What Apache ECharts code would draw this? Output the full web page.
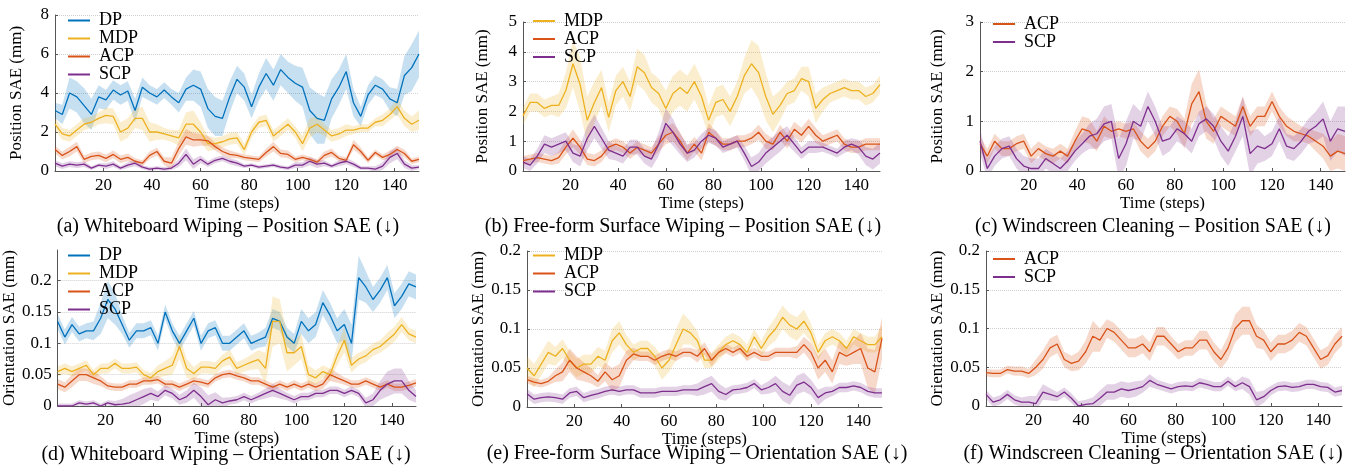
<!DOCTYPE html>
<html>
<head>
<meta charset="utf-8">
<script src="https://cdn.jsdelivr.net/npm/echarts@6.0.0/dist/echarts.min.js"></script>
<style>
html,body{margin:0;padding:0;background:#fff;}
#chart{width:1357px;height:466px;}
</style>
</head>
<body>
<div id="chart"></div>
<script>
// ---------- data ----------
const steps = [0,3,6,9,12,15,18,21,24,27,30,33,36,39,42,45,48,51,54,57,60,63,66,69,72,75,78,81,84,87,90,93,96,99,102,105,108,111,114,117,120,123,126,129,132,135,138,141,144,147,150];

// (a) Whiteboard Wiping - Position SAE
const aDP    = [3.1,2.9,4.0,3.8,3.35,2.9,3.8,3.65,4.15,3.9, 4.1,3.1,4.3,4.0,3.8,4.15,3.8,3.5,4.2,4.4, 4.2,3.2,2.8,2.7,3.8,4.7,4.3,3.3,4.3,5.0, 4.4,5.2,4.8,4.5,4.3,3.1,2.7,2.6,3.7,4.3, 5.1,3.5,2.8,3.9,4.4,4.2,3.7,3.5,4.9,5.3, 6.0];
const aDPsd  = [0.4,0.5,0.8,0.8,0.9,0.8,0.6,0.5,0.5,0.5, 0.5,0.6,0.5,0.4,0.4,0.4,0.4,0.5,0.6,0.8, 0.9,1.0,1.0,0.9,0.8,0.7,0.7,0.6,0.7,0.8, 0.8,0.8,0.8,0.9,1.0,1.2,1.3,1.2,1.0,0.9, 0.9,0.7,0.5,0.5,0.5,0.5,0.6,0.7,1.0,1.2, 1.2];
const aMDP   = [2.4,1.9,1.8,2.1,2.4,2.5,2.7,2.85,2.8,2.0, 2.2,2.7,2.7,2.0,2.0,1.9,1.8,1.7,2.4,2.4, 2.0,1.4,1.4,1.5,1.65,1.7,1.1,2.0,2.5,2.6, 1.8,2.1,2.4,2.0,1.4,2.2,2.4,2.1,1.8,1.9, 2.1,2.1,2.2,2.2,2.5,2.6,2.9,3.3,2.7,2.4, 2.6];
const aMDPsd = [0.3,0.3,0.3,0.3,0.3,0.3,0.3,0.4,0.4,0.5, 0.5,0.5,0.6,0.5,0.4,0.3,0.3,0.4,0.6,0.7, 0.5,0.4,0.3,0.3,0.3,0.3,0.3,0.3,0.3,0.3, 0.3,0.3,0.3,0.3,0.4,0.5,0.4,0.3,0.3,0.3, 0.3,0.2,0.2,0.2,0.2,0.3,0.3,0.4,0.4,0.4, 0.5];
const aACP   = [1.1,0.8,1.0,1.25,0.6,0.75,0.8,0.65,0.85,0.6, 0.7,0.5,0.4,0.8,1.0,0.5,0.4,1.15,1.75,1.6, 1.6,1.55,1.25,1.0,0.85,0.8,0.7,0.65,0.6,0.95, 1.25,0.9,0.85,0.6,0.7,0.6,0.45,0.8,0.95,0.65, 0.55,1.35,1.0,0.55,0.95,0.7,0.85,1.1,0.9,0.5, 0.6];
const aACPsd = [0.2,0.2,0.25,0.25,0.2,0.2,0.2,0.2,0.2,0.2, 0.2,0.15,0.15,0.2,0.2,0.2,0.3,0.35,0.4,0.35, 0.3,0.25,0.2,0.2,0.2,0.15,0.15,0.15,0.15,0.2, 0.25,0.2,0.2,0.15,0.15,0.15,0.15,0.2,0.2,0.15, 0.15,0.25,0.2,0.15,0.15,0.15,0.2,0.2,0.2,0.15, 0.15];
const aSCP   = [0.4,0.25,0.35,0.3,0.35,0.15,0.3,0.25,0.35,0.15, 0.3,0.4,0.2,0.1,0.15,0.1,0.15,0.4,0.85,0.35, 0.6,0.35,0.55,0.65,0.5,0.4,0.25,0.3,0.2,0.25, 0.3,0.2,0.15,0.3,0.3,0.5,0.35,0.4,0.25,0.4, 0.5,0.35,0.15,0.15,0.1,0.25,0.7,0.9,0.35,0.15, 0.2];
const aSCPsd = [0.15,0.15,0.15,0.15,0.15,0.1,0.1,0.15,0.15,0.1, 0.15,0.15,0.1,0.1,0.1,0.1,0.1,0.2,0.3,0.25, 0.2,0.15,0.15,0.15,0.15,0.15,0.1,0.1,0.1,0.1, 0.1,0.1,0.1,0.15,0.15,0.2,0.2,0.15,0.1,0.15, 0.15,0.15,0.1,0.1,0.15,0.2,0.3,0.3,0.2,0.15, 0.1];

// (b) Free-form Surface Wiping - Position SAE
const bMDP   = [1.85,2.3,2.3,2.1,2.2,2.2,2.7,3.6,2.9,1.7, 2.3,2.8,1.8,2.7,3.0,2.5,3.5,3.3,2.8,2.6, 2.1,2.6,2.8,2.6,3.0,2.5,1.7,2.3,2.4,2.0, 2.5,3.2,3.6,3.3,2.5,1.9,2.2,2.6,2.7,3.1, 3.0,2.1,2.4,2.6,2.7,2.8,2.7,2.7,2.5,2.6, 2.9];
const bMDPsd = [0.3,0.3,0.3,0.3,0.3,0.4,0.6,0.8,0.9,0.8, 0.7,0.6,0.5,0.5,0.5,0.5,0.6,0.6,0.5,0.5, 0.6,0.6,0.6,0.6,0.6,0.6,0.5,0.5,0.5,0.5, 0.5,0.6,0.8,0.9,0.8,0.6,0.5,0.4,0.4,0.4, 0.5,0.5,0.4,0.3,0.3,0.3,0.3,0.3,0.3,0.3, 0.3];
const bACP   = [0.35,0.4,0.45,0.4,0.35,0.45,0.8,1.1,0.8,0.4, 0.35,0.5,0.8,0.9,0.8,0.6,0.8,0.7,0.6,0.9, 1.2,1.3,1.0,0.6,0.9,0.6,1.3,1.1,0.9,0.9, 1.0,1.0,1.1,1.3,1.0,0.9,1.3,1.0,1.4,1.2, 1.5,1.2,1.0,1.1,1.2,0.9,0.8,0.8,0.9,0.9, 0.9];
const bACPsd = [0.15,0.15,0.15,0.15,0.15,0.2,0.25,0.3,0.25,0.2, 0.2,0.2,0.2,0.2,0.2,0.2,0.2,0.2,0.2,0.25, 0.3,0.3,0.3,0.25,0.25,0.25,0.3,0.25,0.2,0.2, 0.2,0.2,0.2,0.25,0.25,0.2,0.25,0.25,0.25,0.25, 0.25,0.25,0.2,0.2,0.2,0.2,0.2,0.2,0.2,0.2, 0.2];
const bSCP   = [0.3,0.2,0.5,0.9,0.8,0.9,1.0,0.6,0.5,1.1, 1.5,1.1,0.7,0.6,0.5,0.8,0.8,0.5,0.4,0.9, 1.6,1.3,0.9,0.6,0.7,1.0,1.2,1.1,0.8,0.9, 1.0,0.6,0.15,0.3,0.6,0.8,1.0,1.2,0.9,0.6, 0.8,0.8,0.8,0.7,0.6,0.8,0.9,0.8,0.5,0.4, 0.6];
const bSCPsd = [0.2,0.2,0.25,0.3,0.3,0.3,0.3,0.3,0.35,0.4, 0.4,0.35,0.3,0.25,0.25,0.25,0.25,0.25,0.3,0.4, 0.5,0.45,0.35,0.3,0.25,0.25,0.25,0.25,0.2,0.2, 0.2,0.25,0.3,0.3,0.35,0.35,0.35,0.3,0.25,0.2, 0.2,0.2,0.15,0.15,0.15,0.2,0.2,0.25,0.3,0.35, 0.35];

// (c) Windscreen Cleaning - Position SAE
const cACP   = [0.55,0.3,0.6,0.45,0.45,0.55,0.6,0.3,0.45,0.35, 0.3,0.4,0.3,0.6,0.85,0.8,0.6,0.9,0.8,0.85, 0.8,0.85,0.6,0.45,0.6,0.9,1.1,1.0,0.75,1.35, 1.6,1.0,0.8,1.1,1.0,0.9,1.3,0.9,1.1,1.1, 1.4,1.1,0.9,0.8,0.75,0.7,0.6,0.5,0.3,0.4, 0.35];
const cACPsd = [0.15,0.15,0.15,0.15,0.15,0.15,0.15,0.15,0.15,0.15, 0.15,0.15,0.15,0.2,0.25,0.25,0.2,0.2,0.15,0.15, 0.15,0.15,0.2,0.2,0.2,0.2,0.2,0.25,0.3,0.4, 0.45,0.35,0.25,0.2,0.2,0.2,0.2,0.2,0.2,0.2, 0.2,0.2,0.2,0.2,0.15,0.15,0.2,0.25,0.3,0.35, 0.35];
const cSCP   = [0.6,0.05,0.3,0.45,0.5,0.25,0.1,0.05,0.05,0.25, 0.15,0.05,0.2,0.4,0.55,0.7,0.75,0.95,1.0,0.25, 0.55,1.0,0.9,1.3,1.0,0.6,0.65,0.85,0.75,0.6, 0.95,1.05,0.9,0.6,0.4,0.7,1.1,0.35,0.5,0.45, 0.55,0.85,0.5,0.45,0.6,0.8,0.9,1.05,0.6,0.85, 0.8];
const cSCPsd = [0.25,0.2,0.2,0.2,0.2,0.2,0.2,0.2,0.2,0.2, 0.2,0.2,0.2,0.2,0.2,0.25,0.3,0.35,0.35,0.4, 0.45,0.35,0.3,0.3,0.3,0.3,0.25,0.25,0.25,0.25, 0.25,0.25,0.25,0.3,0.3,0.3,0.4,0.45,0.35,0.25, 0.25,0.25,0.25,0.25,0.25,0.25,0.3,0.35,0.4,0.45, 0.5];

// (d) Whiteboard Wiping - Orientation SAE
const dDP    = [0.135,0.11,0.13,0.115,0.12,0.12,0.14,0.17,0.155,0.13, 0.105,0.12,0.12,0.125,0.1,0.15,0.12,0.1,0.12,0.14, 0.1,0.12,0.125,0.1,0.1,0.11,0.12,0.1,0.105,0.11, 0.14,0.135,0.11,0.1,0.135,0.12,0.13,0.165,0.145,0.12, 0.13,0.1,0.205,0.19,0.17,0.185,0.205,0.16,0.175,0.195, 0.19];
const dDPsd  = [0.012,0.012,0.012,0.012,0.012,0.015,0.025,0.03,0.025,0.015, 0.012,0.012,0.012,0.012,0.012,0.012,0.012,0.012,0.012,0.012, 0.012,0.012,0.012,0.012,0.012,0.012,0.012,0.012,0.012,0.015, 0.015,0.015,0.015,0.015,0.02,0.02,0.02,0.02,0.02,0.02, 0.025,0.03,0.035,0.025,0.02,0.02,0.02,0.02,0.02,0.02, 0.02];
const dMDP   = [0.055,0.06,0.055,0.06,0.065,0.05,0.06,0.06,0.068,0.06, 0.06,0.062,0.05,0.045,0.055,0.06,0.065,0.095,0.06,0.052, 0.062,0.062,0.06,0.072,0.078,0.06,0.065,0.07,0.074,0.06, 0.135,0.135,0.085,0.085,0.095,0.05,0.045,0.055,0.05,0.08, 0.105,0.065,0.075,0.08,0.09,0.095,0.105,0.115,0.13,0.115, 0.11];
const dMDPsd = [0.008,0.008,0.008,0.008,0.008,0.008,0.008,0.008,0.008,0.008, 0.008,0.008,0.008,0.008,0.01,0.012,0.015,0.02,0.015,0.01, 0.01,0.01,0.01,0.01,0.012,0.01,0.01,0.012,0.015,0.025, 0.04,0.035,0.03,0.02,0.02,0.015,0.012,0.01,0.01,0.015, 0.02,0.012,0.01,0.01,0.01,0.01,0.012,0.012,0.012,0.01, 0.01];
const dACP   = [0.035,0.03,0.04,0.05,0.05,0.045,0.04,0.032,0.03,0.03, 0.035,0.035,0.04,0.04,0.042,0.035,0.035,0.03,0.035,0.04, 0.038,0.035,0.045,0.05,0.052,0.048,0.045,0.04,0.04,0.035, 0.03,0.035,0.03,0.035,0.03,0.035,0.03,0.035,0.05,0.045, 0.04,0.035,0.035,0.04,0.035,0.03,0.035,0.03,0.03,0.033, 0.037];
const dACPsd = [0.008,0.008,0.01,0.01,0.01,0.01,0.008,0.006,0.006,0.006, 0.006,0.006,0.006,0.006,0.006,0.006,0.006,0.006,0.006,0.006, 0.006,0.006,0.006,0.006,0.006,0.006,0.006,0.006,0.006,0.006, 0.006,0.006,0.006,0.006,0.006,0.006,0.006,0.008,0.01,0.008, 0.006,0.006,0.006,0.006,0.006,0.006,0.006,0.006,0.006,0.006, 0.006];
const dSCP   = [0,0,0,0.005,0.003,0.005,0,0.005,0.002,0.003, 0.005,0.01,0.015,0.02,0.015,0.025,0.02,0.01,0.015,0.025, 0.015,0.002,0.01,0.005,0.008,0.01,0.015,0.01,0.015,0.02, 0.025,0.02,0.015,0.01,0.015,0.015,0.02,0.02,0.025,0.025, 0.02,0.025,0.02,0.005,0.01,0.025,0.035,0.04,0.04,0.025, 0.015];
const dSCPsd = [0.004,0.004,0.004,0.004,0.004,0.004,0.004,0.004,0.006,0.008, 0.012,0.012,0.012,0.01,0.008,0.008,0.008,0.008,0.01,0.012, 0.015,0.015,0.012,0.008,0.006,0.006,0.006,0.006,0.006,0.008, 0.01,0.008,0.006,0.006,0.006,0.006,0.006,0.006,0.006,0.006, 0.006,0.006,0.006,0.008,0.01,0.015,0.02,0.02,0.02,0.015, 0.01];

// (e) Free-form Surface Wiping - Orientation SAE
const eMDP   = [0.05,0.04,0.055,0.07,0.065,0.075,0.06,0.05,0.055,0.055, 0.065,0.06,0.085,0.095,0.08,0.07,0.075,0.075,0.065,0.05, 0.06,0.08,0.1,0.095,0.085,0.06,0.06,0.07,0.08,0.085, 0.08,0.07,0.09,0.075,0.09,0.1,0.115,0.105,0.1,0.11, 0.095,0.07,0.085,0.09,0.085,0.075,0.09,0.085,0.08,0.08, 0.09];
const eMDPsd = [0.015,0.015,0.015,0.015,0.012,0.012,0.012,0.012,0.012,0.012, 0.012,0.012,0.015,0.015,0.012,0.01,0.01,0.01,0.012,0.015, 0.015,0.02,0.02,0.015,0.012,0.01,0.01,0.01,0.01,0.01, 0.01,0.01,0.01,0.01,0.012,0.015,0.015,0.015,0.015,0.015, 0.012,0.01,0.01,0.01,0.01,0.01,0.01,0.01,0.01,0.01, 0.015];
const eACP   = [0.035,0.032,0.03,0.033,0.04,0.045,0.06,0.05,0.045,0.04, 0.033,0.045,0.035,0.04,0.06,0.068,0.065,0.065,0.06,0.065, 0.068,0.065,0.07,0.07,0.065,0.075,0.06,0.07,0.075,0.07, 0.075,0.065,0.07,0.065,0.065,0.07,0.07,0.07,0.07,0.08, 0.07,0.05,0.06,0.045,0.07,0.065,0.07,0.075,0.05,0.045, 0.088];
const eACPsd = [0.005,0.005,0.005,0.005,0.008,0.012,0.015,0.015,0.012,0.01, 0.008,0.012,0.015,0.015,0.012,0.008,0.006,0.006,0.006,0.006, 0.006,0.006,0.006,0.006,0.008,0.008,0.008,0.006,0.006,0.006, 0.006,0.006,0.006,0.006,0.006,0.006,0.006,0.006,0.008,0.01, 0.012,0.015,0.015,0.015,0.015,0.012,0.015,0.02,0.025,0.028, 0.027];
const eSCP   = [0.017,0.01,0.012,0.013,0.012,0.01,0.018,0.02,0.012,0.015, 0.017,0.02,0.022,0.02,0.022,0.022,0.018,0.018,0.018,0.02, 0.02,0.02,0.022,0.022,0.022,0.026,0.03,0.02,0.016,0.022, 0.023,0.025,0.03,0.022,0.025,0.03,0.02,0.015,0.028,0.032, 0.025,0.012,0.018,0.02,0.025,0.025,0.027,0.025,0.02,0.018, 0.018];
const eSCPsd = [0.006,0.006,0.006,0.006,0.006,0.006,0.006,0.006,0.006,0.006, 0.006,0.006,0.006,0.006,0.006,0.006,0.006,0.006,0.006,0.006, 0.006,0.006,0.006,0.006,0.008,0.01,0.01,0.01,0.008,0.006, 0.006,0.006,0.006,0.006,0.008,0.01,0.012,0.012,0.012,0.012, 0.01,0.01,0.008,0.006,0.006,0.006,0.006,0.006,0.006,0.006, 0.006];

// (f) Windscreen Cleaning - Orientation SAE
const fACP   = [0.043,0.042,0.042,0.047,0.045,0.045,0.042,0.05,0.06,0.075, 0.08,0.06,0.055,0.058,0.07,0.09,0.085,0.1,0.095,0.085, 0.075,0.075,0.08,0.07,0.09,0.09,0.08,0.07,0.075,0.075, 0.085,0.085,0.07,0.06,0.075,0.1,0.11,0.11,0.09,0.085, 0.07,0.08,0.08,0.085,0.095,0.09,0.075,0.06,0.065,0.08, 0.09];
const fACPsd = [0.005,0.005,0.005,0.005,0.006,0.006,0.006,0.01,0.012,0.012, 0.012,0.01,0.01,0.012,0.015,0.02,0.015,0.012,0.012,0.012, 0.012,0.012,0.012,0.012,0.012,0.012,0.01,0.01,0.01,0.01, 0.012,0.012,0.012,0.012,0.015,0.018,0.018,0.018,0.015,0.012, 0.012,0.012,0.012,0.012,0.012,0.012,0.012,0.012,0.012,0.012, 0.012];
const fSCP   = [0.015,0.005,0.008,0.015,0.008,0.005,0.005,0.003,0.018,0.015, 0.012,0.018,0.01,0,0.002,0.003,0.01,0.018,0.018,0.022, 0.02,0.022,0.025,0.033,0.028,0.025,0.022,0.025,0.026,0.025, 0.03,0.028,0.025,0.025,0.032,0.025,0.03,0.025,0.008,0.012, 0.02,0.025,0.026,0.024,0.025,0.028,0.028,0.025,0.024,0.018, 0.02];
const fSCPsd = [0.006,0.006,0.006,0.006,0.006,0.006,0.008,0.01,0.01,0.008, 0.006,0.006,0.006,0.006,0.006,0.008,0.01,0.01,0.01,0.01, 0.01,0.01,0.008,0.008,0.006,0.006,0.006,0.006,0.006,0.006, 0.006,0.006,0.006,0.006,0.006,0.006,0.008,0.01,0.01,0.008, 0.006,0.006,0.006,0.006,0.006,0.006,0.006,0.006,0.006,0.006, 0.006];

const methodColors = {DP:'#0072BD', MDP:'#EDB120', ACP:'#D95319', SCP:'#7E2F8E'};
const bandRGB = {DP:'0,114,189', MDP:'237,177,32', ACP:'217,83,25', SCP:'126,47,142'};

const xAxisName = 'Time (steps)';
const posName = 'Position SAE (mm)';
const oriName = 'Orientation SAE (mm)';
const captions = [
  '(a) Whiteboard Wiping \u2013 Position SAE (\u2193)',
  '(b) Free-form Surface Wiping \u2013 Position SAE (\u2193)',
  '(c) Windscreen Cleaning \u2013 Position SAE (\u2193)',
  '(d) Whiteboard Wiping \u2013 Orientation SAE (\u2193)',
  '(e) Free-form Surface Wiping \u2013 Orientation SAE (\u2193)',
  '(f) Windscreen Cleaning \u2013 Orientation SAE (\u2193)'
];

// ---------- layout ----------
const FONT = 'Liberation Serif';
const panels = [
  {grid:{left:55, top:15, width:364, height:156}, yMax:8, yInt:2, yName:posName, nameGap:30,
   legend:{left:68, top:11.5, lh:18}, cap:[228,227],
   series:[['DP',aDP,aDPsd],['MDP',aMDP,aMDPsd],['ACP',aACP,aACPsd],['SCP',aSCP,aSCPsd]]},
  {grid:{left:523, top:22, width:357, height:149}, yMax:5, yInt:1, yName:posName, nameGap:32,
   legend:{left:533, top:12, lh:17.2}, cap:[683,227],
   series:[['MDP',bMDP,bMDPsd],['ACP',bACP,bACPsd],['SCP',bSCP,bSCPsd]]},
  {grid:{left:980, top:22, width:365, height:149}, yMax:3, yInt:1, yName:posName, nameGap:34,
   legend:{left:993, top:15, lh:16.7}, cap:[1153,227],
   series:[['ACP',cACP,cACPsd],['SCP',cSCP,cSCPsd]]},
  {grid:{left:55, top:250, width:361, height:156}, yMax:0.249, yInt:0.05, yName:oriName, nameGap:33,
   legend:{left:68, top:246.5, lh:18}, cap:[226,455],
   series:[['DP',dDP,dDPsd],['MDP',dMDP,dMDPsd],['ACP',dACP,dACPsd],['SCP',dSCP,dSCPsd]]},
  {grid:{left:527, top:251, width:355, height:156}, yMax:0.2, yInt:0.05, yName:oriName, nameGap:36,
   legend:{left:533, top:246.5, lh:17}, cap:[697,454],
   series:[['MDP',eMDP,eMDPsd],['ACP',eACP,eACPsd],['SCP',eSCP,eSCPsd]]},
  {grid:{left:986, top:251, width:356, height:155}, yMax:0.2, yInt:0.05, yName:oriName, nameGap:40,
   legend:{left:993, top:250, lh:16.7}, cap:[1153,454],
   series:[['ACP',fACP,fACPsd],['SCP',fSCP,fSCPsd]]}
];

function bandRenderer(mean, sd, rgb) {
  return function (params, api) {
    const pts = [];
    for (let k = 0; k < steps.length; k++) pts.push(api.coord([steps[k], mean[k] + sd[k]]));
    for (let k = steps.length - 1; k >= 0; k--) pts.push(api.coord([steps[k], mean[k] - sd[k]]));
    const cs = params.coordSys;
    return {
      type:'polygon', shape:{points:pts},
      style:{fill:'rgba(' + rgb + ',0.22)', stroke:null},
      clipPath:{type:'rect', shape:{x:cs.x, y:cs.y, width:cs.width, height:cs.height}},
      silent:true
    };
  };
}

const labelStyle = {fontFamily:FONT, fontSize:17, color:'#000', fontWeight:'normal'};
const tickRich = {t:{fontFamily:FONT, fontSize:17, color:'#000'}};
const tickFormatter = v => '{t|' + v + '}';

const grids = [], xAxes = [], yAxes = [], legends = [], series = [], graphics = [];
panels.forEach((p, i) => {
  grids.push(Object.assign({containLabel:false}, p.grid));
  xAxes.push({
    type:'value', gridIndex:i, min:0, max:150, interval:20,
    name:xAxisName, nameLocation:'middle', nameGap:21,
    nameTextStyle:Object.assign({}, labelStyle),
    axisLine:{show:true, lineStyle:{color:'#555', width:1}},
    axisTick:{show:true, inside:true, length:3, lineStyle:{color:'#555'}},
    axisLabel:Object.assign({margin:6, showMinLabel:false, showMaxLabel:false,
      formatter:tickFormatter, rich:tickRich}, labelStyle),
    splitLine:{show:false}
  });
  yAxes.push({
    type:'value', gridIndex:i, min:0, max:p.yMax, interval:p.yInt,
    name:p.yName, nameLocation:'middle', nameGap:p.nameGap,
    nameTextStyle:Object.assign({}, labelStyle),
    axisLine:{show:true, lineStyle:{color:'#555', width:1}},
    axisTick:{show:true, inside:true, length:3, lineStyle:{color:'#555'}},
    axisLabel:Object.assign({margin:6, showMaxLabel:(i !== 3),
      formatter:tickFormatter, rich:tickRich}, labelStyle),
    splitLine:{show:true, showMaxLine:(i !== 3), lineStyle:{type:'dotted', color:'#d0d0d0', width:1}}
  });
  legends.push({
    data:p.series.map(s => s[0]), orient:'vertical', left:p.legend.left, top:p.legend.top,
    padding:0, itemGap:0, itemWidth:22, itemHeight:2, icon:'rect', selectedMode:false,
    textStyle:{fontFamily:FONT, fontSize:18, color:'#000', lineHeight:p.legend.lh, padding:[0,0,0,4]}
  });
  p.series.forEach(([name, mean, sd]) => {
    series.push({
      type:'custom', xAxisIndex:i, yAxisIndex:i, data:[[0, 0]], silent:true, z:1,
      animation:false, renderItem:bandRenderer(mean, sd, bandRGB[name])
    });
  });
  p.series.forEach(([name, mean]) => {
    series.push({
      name:name, type:'line', xAxisIndex:i, yAxisIndex:i,
      data:steps.map((x, k) => [x, mean[k]]),
      symbol:'none', z:3, animation:false,
      lineStyle:{color:methodColors[name], width:1.3},
      itemStyle:{color:methodColors[name]}
    });
  });
  graphics.push({
    type:'text', x:p.cap[0], y:p.cap[1],
    style:{text:captions[i], font:'20px "Liberation Serif"', fill:'#000',
           align:'center', verticalAlign:'middle', textAlign:'center', textVerticalAlign:'middle'}
  });
});

const chart = echarts.init(document.getElementById('chart'), null, {renderer:'canvas'});
chart.setOption({
  backgroundColor:'#ffffff',
  animation:false,
  textStyle:{fontFamily:FONT},
  grid:grids, xAxis:xAxes, yAxis:yAxes, legend:legends, series:series,
  graphic:graphics
});
</script>
</body>
</html>
